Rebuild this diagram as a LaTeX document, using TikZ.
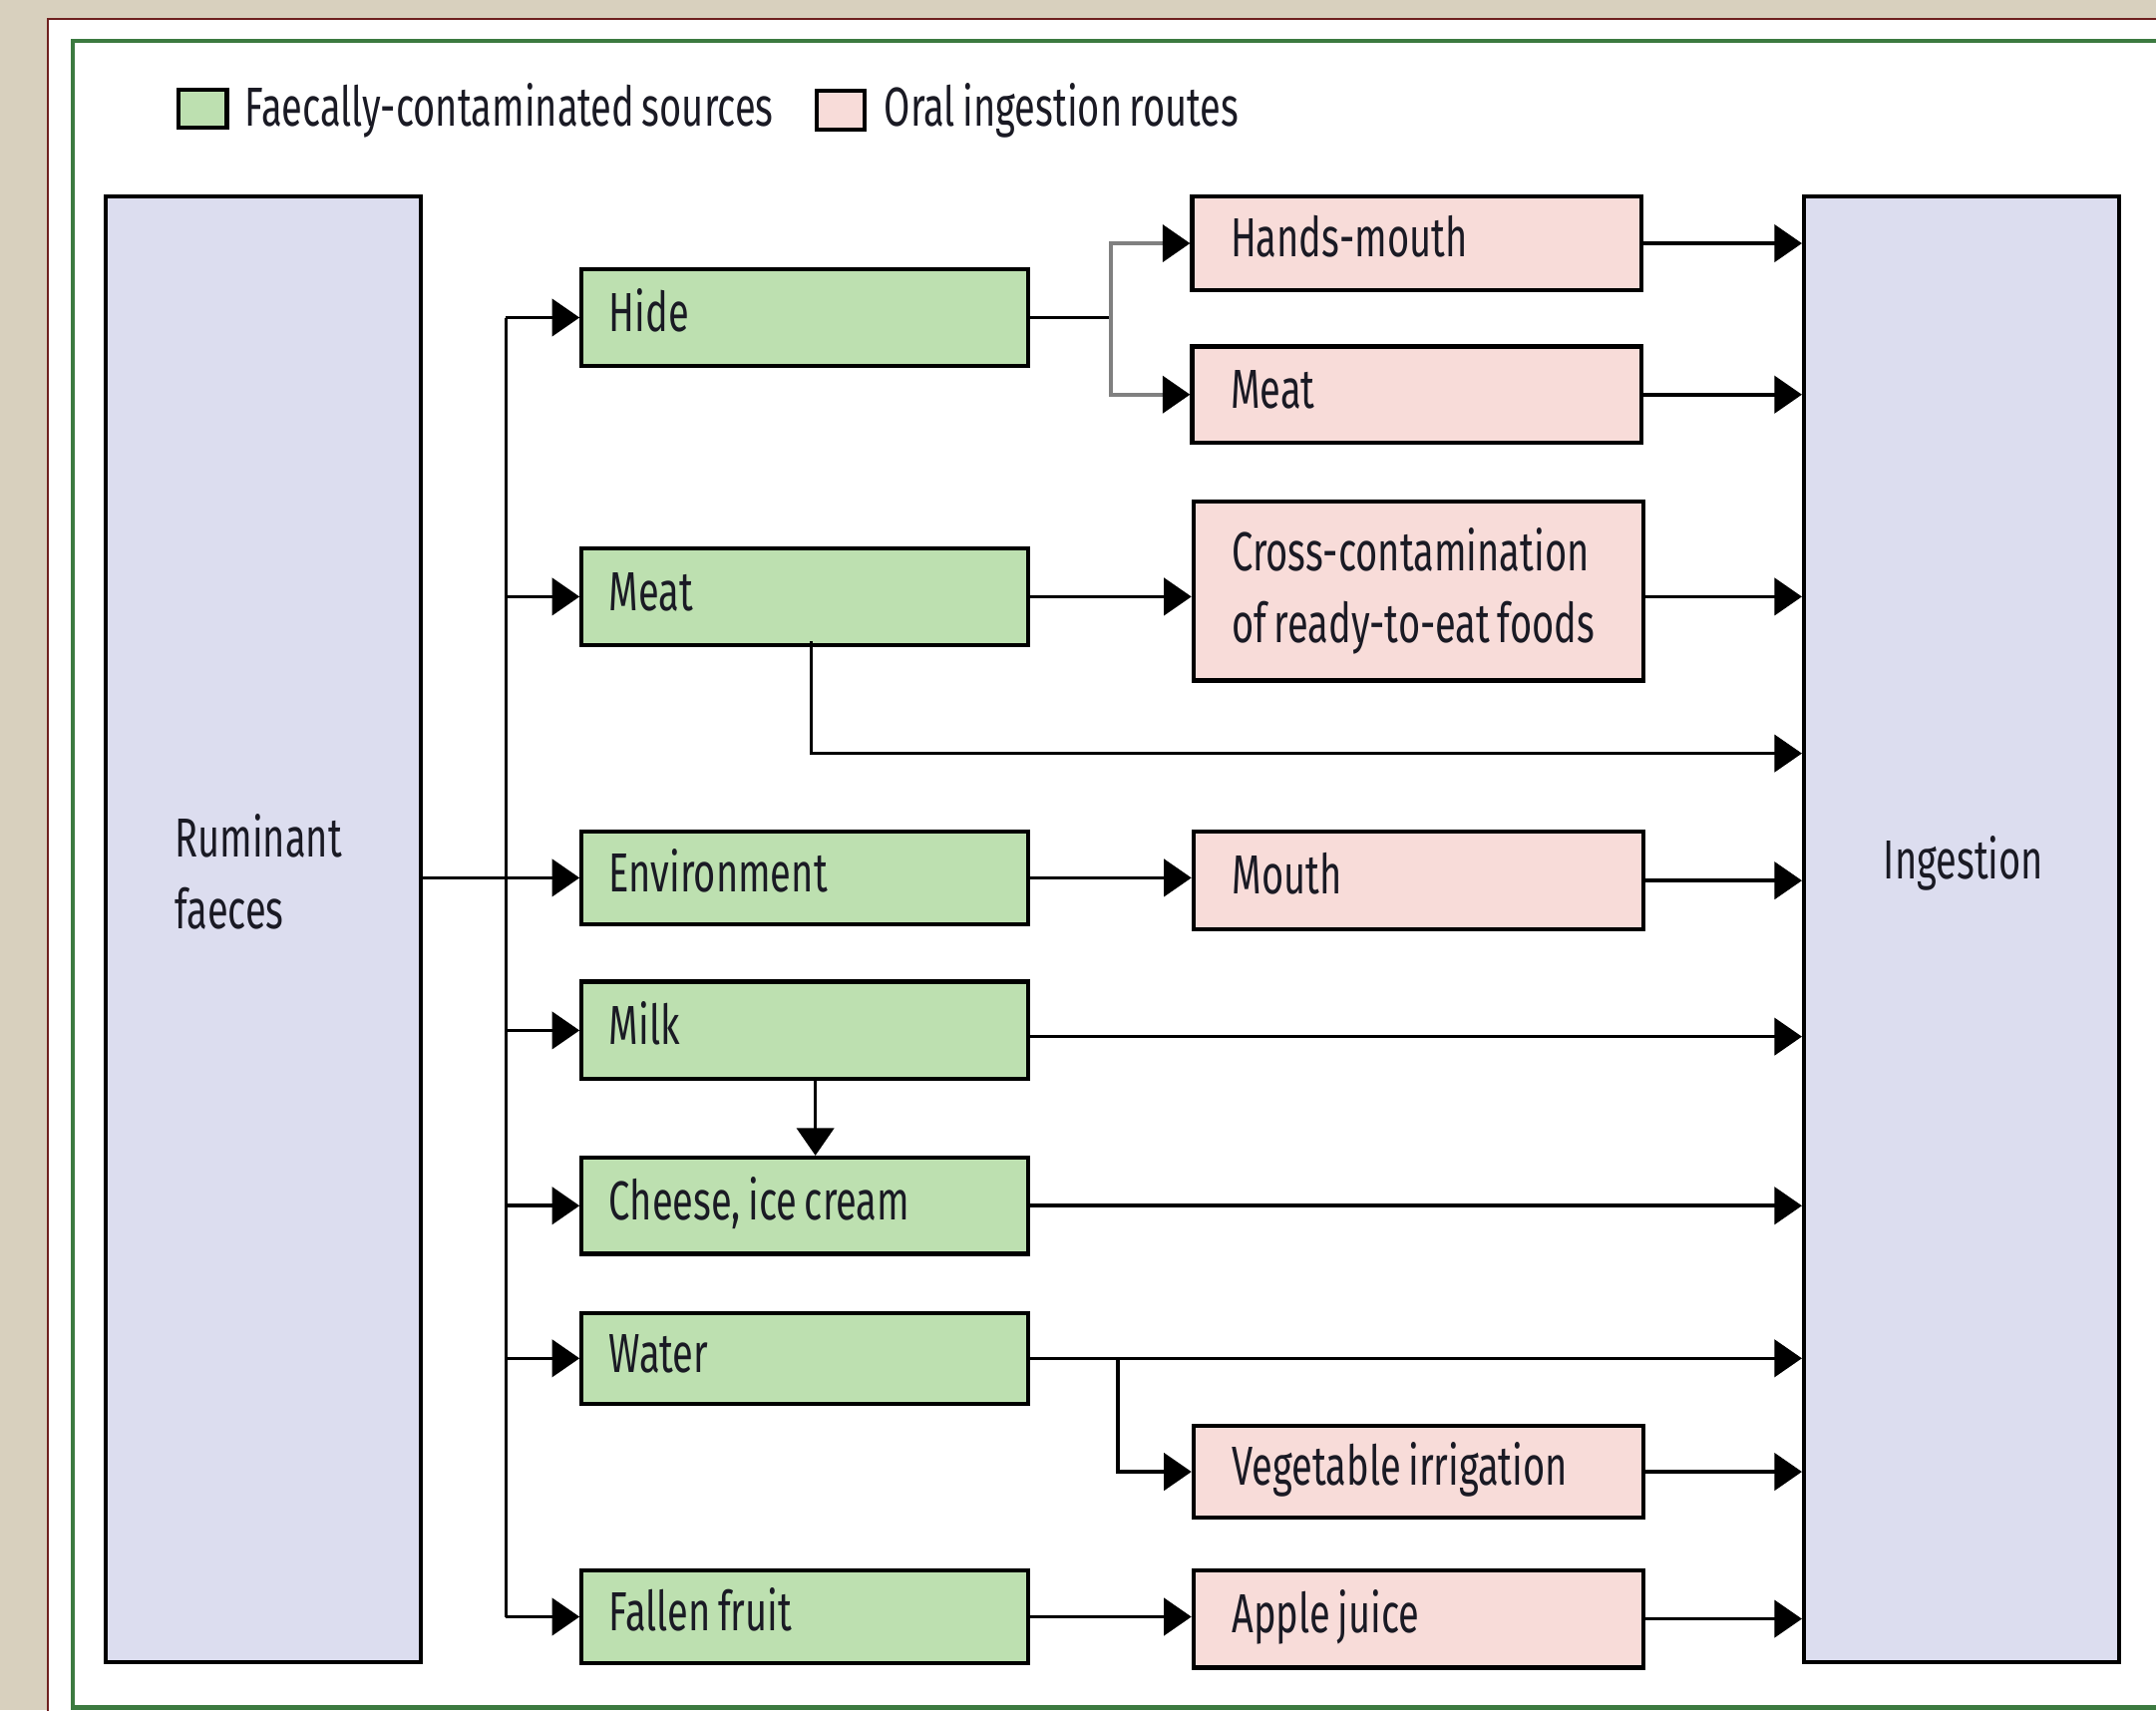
\documentclass[tikz,border=0pt]{standalone}
\usepackage{fontspec}
\setmainfont{Fira Sans}[FakeStretch=0.69, WordSpace=0.75]
\usetikzlibrary{arrows.meta}
\definecolor{gfill}{HTML}{BDE0B0}
\definecolor{pfill}{HTML}{F8DCD9}
\definecolor{bfill}{HTML}{DCDDEF}
\definecolor{beige}{HTML}{D8D0BE}
\definecolor{darkred}{HTML}{6E2020}
\definecolor{framegreen}{HTML}{3C7A40}
\definecolor{txt}{HTML}{1A1A24}
\begin{document}
\begin{tikzpicture}[x=1pt,y=-1pt,
  every node/.style={font=\fontsize{40}{52}\selectfont, text=txt},
  gbox/.style={draw=black, line width=3pt, fill=gfill, minimum height=70pt,
    text width=285pt, inner xsep=20pt, align=flush left, text height=28pt, text depth=8pt},
  pbox/.style={draw=black, line width=3pt, fill=pfill, minimum height=70pt,
    text width=271pt, inner xsep=28pt, align=flush left, text height=28pt, text depth=8pt},
  pboxtwo/.style={draw=black, line width=3pt, fill=pfill, minimum height=130pt,
    text width=271pt, inner xsep=28pt, align=flush left},
  bbox/.style={draw=black, line width=3pt, fill=bfill, minimum width=229pt, minimum height=1066pt},
  conn/.style={draw=black, line width=2.6pt},
  arr/.style={conn, -{Triangle[length=20pt,width=27pt]}},
  garr/.style={draw=gray, line width=2.6pt, -{Triangle[length=20pt,width=27pt,color=black]}},
  lgbox/.style={draw=black, line width=3pt, minimum width=35pt, minimum height=28pt, inner sep=0pt}
]
\useasboundingbox (0,0) rectangle (1568,1244);
\clip (0,0) rectangle (1568,1244);
% background and frames
\fill[beige] (0,0) rectangle (1568,1244);
\draw[fill=white, draw=darkred, line width=1.5pt] (35,14) rectangle (1620,1300);
\draw[draw=framegreen, line width=3pt] (53,30) rectangle (1620,1242);

% legend
\node[lgbox, fill=gfill] (lg) at (147.5,79) {};
\node[anchor=base west, inner sep=0pt] (lgt) at (178,92) {Faecally-contaminated sources};
\node[lgbox, fill=pfill] (lp) at (611.5,80) {};
\node[anchor=base west, inner sep=0pt] (lpt) at (643,92) {Oral ingestion routes};

% big boxes
\node[bbox] (rum) at (191.5,676) {};
\node[anchor=west, align=flush left, inner sep=0pt] (rumt) at (127,634) {Ruminant\\faeces};
\node[bbox] (ing) at (1426.5,676) {};
\node[inner sep=0pt] (ingt) at (1428,628) {Ingestion};

% sources
\node[gbox] (hide) at (585.5,231) {Hide};
\node[gbox] (meat) at (585.5,434) {Meat};
\node[gbox, minimum height=67pt] (env) at (585.5,638.5) {Environment};
\node[gbox, minimum height=71pt] (milk) at (585.5,749.5) {Milk};
\node[gbox] (cheese) at (585.5,877) {Cheese, ice cream};
\node[gbox, minimum height=66pt] (water) at (585.5,988) {Water};
\node[gbox, minimum height=68pt] (fruit) at (585.5,1176) {Fallen fruit};

% routes
\node[pbox, minimum height=68pt] (hands) at (1030.5,177) {Hands-mouth};
\node[pbox] (pmeat) at (1030.5,287) {Meat};
\node[pboxtwo] (cross) at (1031.5,430) {Cross-contamination\\of ready-to-eat foods};
\node[pbox, minimum height=71pt] (mouth) at (1031.5,640.5) {Mouth};
\node[pbox, minimum height=67pt] (veg) at (1031.5,1070.5) {Vegetable irrigation};
\node[pbox, minimum height=71pt] (apple) at (1031.5,1177.5) {Apple juice};

% bus from ruminant faeces
\coordinate (busx) at (368,0);
\draw[conn] (busx |- hide.west) -- (busx |- fruit.west);
\draw[conn] (rum.east |- env.west) -- (busx |- env.west);
\foreach \n in {hide,meat,env,milk,cheese,water,fruit}
  \draw[arr] (busx |- \n.west) -- (\n.west);

% hide branch
\coordinate (hj) at (808,0);
\draw[conn] (hide.east) -- (hj |- hide.east);
\draw[garr] (hj |- hide.east) |- (hands.west);
\draw[garr] (hj |- hide.east) |- (pmeat.west);

% meat
\draw[arr] (meat.east) -- (cross.west |- meat.east);
\coordinate (mrow) at (0,548);
\draw[arr] ([xshift=4.5pt,yshift=4pt]meat.south) |- (ing.west |- mrow);

% environment
\draw[arr] (env.east) -- (mouth.west |- env.east);

% milk and cheese
\coordinate (milkrow) at (0,754);
\draw[arr] (milk.east |- milkrow) -- (ing.west |- milkrow);
\draw[arr] ([xshift=7.5pt]milk.south) -- ([xshift=7.5pt]cheese.north);
\draw[arr] (cheese.east) -- (ing.west |- cheese.east);

% water
\draw[arr] (water.east) -- (ing.west |- water.east);
\coordinate (wj) at (813,0);
\draw[arr] (wj |- water.east) |- (veg.west);

% fallen fruit
\draw[arr] (fruit.east) -- (apple.west |- fruit.east);

% routes to ingestion
\foreach \n in {hands,pmeat,mouth,veg,apple}
  \draw[arr] (\n.east) -- (ing.west |- \n.east);
\draw[arr] (cross.east |- meat.east) -- (ing.west |- meat.east);
\end{tikzpicture}
\end{document}
